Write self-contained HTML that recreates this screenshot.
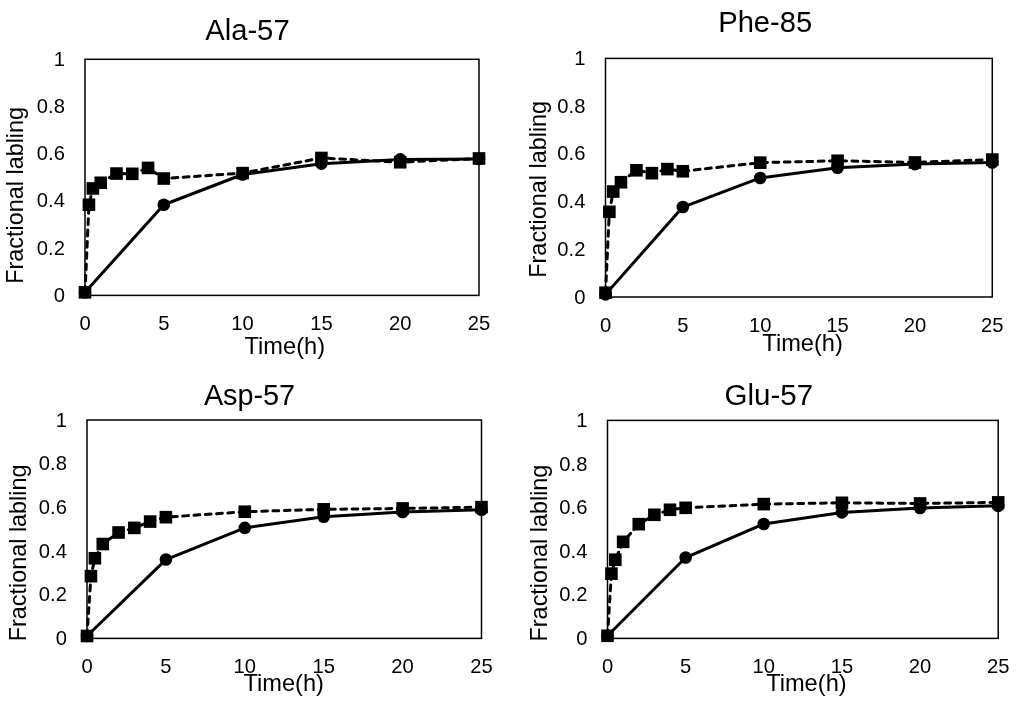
<!DOCTYPE html>
<html><head><meta charset="utf-8"><style>
html,body{margin:0;padding:0;background:#fff;}
body{width:1024px;height:709px;overflow:hidden;}
svg{display:block;will-change:transform;}
text{font-family:"Liberation Sans",sans-serif;fill:#000;}
.tk{font-size:20.2px;}
.ti{font-size:30.3px;}
.lb{font-size:23.4px;}
</style></head><body>
<svg width="1024" height="709" viewBox="0 0 1024 709">
<rect width="1024" height="709" fill="#fff"/>
<rect x="85.00" y="59.30" width="394.00" height="236.10" fill="none" stroke="#000" stroke-width="1.5"/>
<polyline points="85.00,292.33 163.80,204.74 242.60,174.52 321.40,163.66 400.20,159.41 479.00,158.93" fill="none" stroke="#000" stroke-width="3.0" stroke-linejoin="round"/>
<polyline points="85.00,292.33 88.94,204.74 92.88,188.45 100.76,182.78 116.52,173.57 132.28,173.81 148.04,167.91 163.80,178.53 242.60,173.10 321.40,157.99 400.20,162.24 479.00,158.46" fill="none" stroke="#000" stroke-width="3.0" stroke-dasharray="5.8 5.5" stroke-linecap="round" stroke-linejoin="round"/>
<circle cx="85.00" cy="292.33" r="6.3"/>
<circle cx="163.80" cy="204.74" r="6.3"/>
<circle cx="242.60" cy="174.52" r="6.3"/>
<circle cx="321.40" cy="163.66" r="6.3"/>
<circle cx="400.20" cy="159.41" r="6.3"/>
<circle cx="479.00" cy="158.93" r="6.3"/>
<rect x="78.70" y="286.03" width="12.6" height="12.6"/>
<rect x="82.64" y="198.44" width="12.6" height="12.6"/>
<rect x="86.58" y="182.15" width="12.6" height="12.6"/>
<rect x="94.46" y="176.48" width="12.6" height="12.6"/>
<rect x="110.22" y="167.27" width="12.6" height="12.6"/>
<rect x="125.98" y="167.51" width="12.6" height="12.6"/>
<rect x="141.74" y="161.61" width="12.6" height="12.6"/>
<rect x="157.50" y="172.23" width="12.6" height="12.6"/>
<rect x="236.30" y="166.80" width="12.6" height="12.6"/>
<rect x="315.10" y="151.69" width="12.6" height="12.6"/>
<rect x="393.90" y="155.94" width="12.6" height="12.6"/>
<rect x="472.70" y="152.16" width="12.6" height="12.6"/>
<text class="tk" x="64.90" y="65.80" text-anchor="end">1</text>
<text class="tk" x="64.90" y="113.02" text-anchor="end">0.8</text>
<text class="tk" x="64.90" y="160.24" text-anchor="end">0.6</text>
<text class="tk" x="64.90" y="207.46" text-anchor="end">0.4</text>
<text class="tk" x="64.90" y="254.68" text-anchor="end">0.2</text>
<text class="tk" x="64.90" y="301.90" text-anchor="end">0</text>
<text class="tk" x="85.00" y="330.20" text-anchor="middle">0</text>
<text class="tk" x="163.80" y="330.20" text-anchor="middle">5</text>
<text class="tk" x="242.60" y="330.20" text-anchor="middle">10</text>
<text class="tk" x="321.40" y="330.20" text-anchor="middle">15</text>
<text class="tk" x="400.20" y="330.20" text-anchor="middle">20</text>
<text class="tk" x="479.00" y="330.20" text-anchor="middle">25</text>
<text class="ti" x="247.40" y="39.90" text-anchor="middle" textLength="84.5" lengthAdjust="spacingAndGlyphs">Ala-57</text>
<text class="lb" x="284.80" y="354.20" text-anchor="middle" textLength="80.5" lengthAdjust="spacingAndGlyphs">Time(h)</text>
<text class="lb yl" x="0" y="0" text-anchor="middle" transform="translate(23.40,195.35) rotate(-90)">Fractional labling</text>
<rect x="605.50" y="58.40" width="386.80" height="238.60" fill="none" stroke="#000" stroke-width="1.5"/>
<polyline points="605.50,294.38 682.86,207.05 760.22,177.94 837.58,167.68 914.94,164.10 992.30,162.43" fill="none" stroke="#000" stroke-width="3.0" stroke-linejoin="round"/>
<polyline points="605.50,292.71 609.37,211.82 613.24,191.54 620.97,182.23 636.44,170.30 651.92,173.17 667.39,169.11 682.86,171.26 760.22,162.67 837.58,160.76 914.94,162.43 992.30,159.57" fill="none" stroke="#000" stroke-width="3.0" stroke-dasharray="5.8 5.5" stroke-linecap="round" stroke-linejoin="round"/>
<circle cx="605.50" cy="294.38" r="6.3"/>
<circle cx="682.86" cy="207.05" r="6.3"/>
<circle cx="760.22" cy="177.94" r="6.3"/>
<circle cx="837.58" cy="167.68" r="6.3"/>
<circle cx="914.94" cy="164.10" r="6.3"/>
<circle cx="992.30" cy="162.43" r="6.3"/>
<rect x="599.20" y="286.41" width="12.6" height="12.6"/>
<rect x="603.07" y="205.52" width="12.6" height="12.6"/>
<rect x="606.94" y="185.24" width="12.6" height="12.6"/>
<rect x="614.67" y="175.93" width="12.6" height="12.6"/>
<rect x="630.14" y="164.00" width="12.6" height="12.6"/>
<rect x="645.62" y="166.87" width="12.6" height="12.6"/>
<rect x="661.09" y="162.81" width="12.6" height="12.6"/>
<rect x="676.56" y="164.96" width="12.6" height="12.6"/>
<rect x="753.92" y="156.37" width="12.6" height="12.6"/>
<rect x="831.28" y="154.46" width="12.6" height="12.6"/>
<rect x="908.64" y="156.13" width="12.6" height="12.6"/>
<rect x="986.00" y="153.27" width="12.6" height="12.6"/>
<text class="tk" x="585.40" y="64.90" text-anchor="end">1</text>
<text class="tk" x="585.40" y="112.62" text-anchor="end">0.8</text>
<text class="tk" x="585.40" y="160.34" text-anchor="end">0.6</text>
<text class="tk" x="585.40" y="208.06" text-anchor="end">0.4</text>
<text class="tk" x="585.40" y="255.78" text-anchor="end">0.2</text>
<text class="tk" x="585.40" y="303.50" text-anchor="end">0</text>
<text class="tk" x="605.50" y="332.00" text-anchor="middle">0</text>
<text class="tk" x="682.86" y="332.00" text-anchor="middle">5</text>
<text class="tk" x="760.22" y="332.00" text-anchor="middle">10</text>
<text class="tk" x="837.58" y="332.00" text-anchor="middle">15</text>
<text class="tk" x="914.94" y="332.00" text-anchor="middle">20</text>
<text class="tk" x="992.30" y="332.00" text-anchor="middle">25</text>
<text class="ti" x="765.20" y="32.00" text-anchor="middle" textLength="94.0" lengthAdjust="spacingAndGlyphs">Phe-85</text>
<text class="lb" x="802.60" y="351.00" text-anchor="middle" textLength="80.5" lengthAdjust="spacingAndGlyphs">Time(h)</text>
<text class="lb yl" x="0" y="0" text-anchor="middle" transform="translate(545.80,189.30) rotate(-90)">Fractional labling</text>
<rect x="87.00" y="420.00" width="394.50" height="218.40" fill="none" stroke="#000" stroke-width="1.5"/>
<polyline points="87.00,636.00 165.90,559.56 244.80,527.89 323.70,516.75 402.60,511.95 481.50,509.76" fill="none" stroke="#000" stroke-width="3.0" stroke-linejoin="round"/>
<polyline points="87.00,636.00 90.94,576.16 94.89,558.25 102.78,544.05 118.56,532.48 134.34,527.89 150.12,521.56 165.90,517.19 244.80,511.73 323.70,509.33 402.60,508.45 481.50,507.14" fill="none" stroke="#000" stroke-width="3.0" stroke-dasharray="5.8 5.5" stroke-linecap="round" stroke-linejoin="round"/>
<circle cx="87.00" cy="636.00" r="6.3"/>
<circle cx="165.90" cy="559.56" r="6.3"/>
<circle cx="244.80" cy="527.89" r="6.3"/>
<circle cx="323.70" cy="516.75" r="6.3"/>
<circle cx="402.60" cy="511.95" r="6.3"/>
<circle cx="481.50" cy="509.76" r="6.3"/>
<rect x="80.70" y="629.70" width="12.6" height="12.6"/>
<rect x="84.64" y="569.86" width="12.6" height="12.6"/>
<rect x="88.59" y="551.95" width="12.6" height="12.6"/>
<rect x="96.48" y="537.75" width="12.6" height="12.6"/>
<rect x="112.26" y="526.18" width="12.6" height="12.6"/>
<rect x="128.04" y="521.59" width="12.6" height="12.6"/>
<rect x="143.82" y="515.26" width="12.6" height="12.6"/>
<rect x="159.60" y="510.89" width="12.6" height="12.6"/>
<rect x="238.50" y="505.43" width="12.6" height="12.6"/>
<rect x="317.40" y="503.03" width="12.6" height="12.6"/>
<rect x="396.30" y="502.15" width="12.6" height="12.6"/>
<rect x="475.20" y="500.84" width="12.6" height="12.6"/>
<text class="tk" x="66.90" y="426.50" text-anchor="end">1</text>
<text class="tk" x="66.90" y="470.18" text-anchor="end">0.8</text>
<text class="tk" x="66.90" y="513.86" text-anchor="end">0.6</text>
<text class="tk" x="66.90" y="557.54" text-anchor="end">0.4</text>
<text class="tk" x="66.90" y="601.22" text-anchor="end">0.2</text>
<text class="tk" x="66.90" y="644.90" text-anchor="end">0</text>
<text class="tk" x="87.00" y="672.90" text-anchor="middle">0</text>
<text class="tk" x="165.90" y="672.90" text-anchor="middle">5</text>
<text class="tk" x="244.80" y="672.90" text-anchor="middle">10</text>
<text class="tk" x="323.70" y="672.90" text-anchor="middle">15</text>
<text class="tk" x="402.60" y="672.90" text-anchor="middle">20</text>
<text class="tk" x="481.50" y="672.90" text-anchor="middle">25</text>
<text class="ti" x="249.50" y="405.20" text-anchor="middle" textLength="91.2" lengthAdjust="spacingAndGlyphs">Asp-57</text>
<text class="lb" x="283.70" y="691.40" text-anchor="middle" textLength="80.5" lengthAdjust="spacingAndGlyphs">Time(h)</text>
<text class="lb yl" x="0" y="0" text-anchor="middle" transform="translate(25.80,552.90) rotate(-90)">Fractional labling</text>
<rect x="607.50" y="420.40" width="390.70" height="218.00" fill="none" stroke="#000" stroke-width="1.5"/>
<polyline points="607.50,635.78 685.64,557.52 763.78,523.95 841.92,512.40 920.06,508.04 998.20,505.86" fill="none" stroke="#000" stroke-width="3.0" stroke-linejoin="round"/>
<polyline points="607.50,635.78 611.41,573.65 615.31,559.70 623.13,541.83 638.76,524.17 654.38,514.79 670.01,509.78 685.64,507.82 763.78,504.11 841.92,502.80 920.06,503.46 998.20,502.37" fill="none" stroke="#000" stroke-width="3.0" stroke-dasharray="5.8 5.5" stroke-linecap="round" stroke-linejoin="round"/>
<circle cx="607.50" cy="635.78" r="6.3"/>
<circle cx="685.64" cy="557.52" r="6.3"/>
<circle cx="763.78" cy="523.95" r="6.3"/>
<circle cx="841.92" cy="512.40" r="6.3"/>
<circle cx="920.06" cy="508.04" r="6.3"/>
<circle cx="998.20" cy="505.86" r="6.3"/>
<rect x="601.20" y="629.48" width="12.6" height="12.6"/>
<rect x="605.11" y="567.35" width="12.6" height="12.6"/>
<rect x="609.01" y="553.40" width="12.6" height="12.6"/>
<rect x="616.83" y="535.53" width="12.6" height="12.6"/>
<rect x="632.46" y="517.87" width="12.6" height="12.6"/>
<rect x="648.08" y="508.49" width="12.6" height="12.6"/>
<rect x="663.71" y="503.48" width="12.6" height="12.6"/>
<rect x="679.34" y="501.52" width="12.6" height="12.6"/>
<rect x="757.48" y="497.81" width="12.6" height="12.6"/>
<rect x="835.62" y="496.50" width="12.6" height="12.6"/>
<rect x="913.76" y="497.16" width="12.6" height="12.6"/>
<rect x="991.90" y="496.07" width="12.6" height="12.6"/>
<text class="tk" x="587.40" y="426.90" text-anchor="end">1</text>
<text class="tk" x="587.40" y="470.50" text-anchor="end">0.8</text>
<text class="tk" x="587.40" y="514.10" text-anchor="end">0.6</text>
<text class="tk" x="587.40" y="557.70" text-anchor="end">0.4</text>
<text class="tk" x="587.40" y="601.30" text-anchor="end">0.2</text>
<text class="tk" x="587.40" y="644.90" text-anchor="end">0</text>
<text class="tk" x="607.50" y="672.90" text-anchor="middle">0</text>
<text class="tk" x="685.64" y="672.90" text-anchor="middle">5</text>
<text class="tk" x="763.78" y="672.90" text-anchor="middle">10</text>
<text class="tk" x="841.92" y="672.90" text-anchor="middle">15</text>
<text class="tk" x="920.06" y="672.90" text-anchor="middle">20</text>
<text class="tk" x="998.20" y="672.90" text-anchor="middle">25</text>
<text class="ti" x="768.80" y="405.40" text-anchor="middle" textLength="88.5" lengthAdjust="spacingAndGlyphs">Glu-57</text>
<text class="lb" x="806.40" y="691.40" text-anchor="middle" textLength="80.5" lengthAdjust="spacingAndGlyphs">Time(h)</text>
<text class="lb yl" x="0" y="0" text-anchor="middle" transform="translate(547.00,553.05) rotate(-90)">Fractional labling</text>
</svg>
</body></html>
